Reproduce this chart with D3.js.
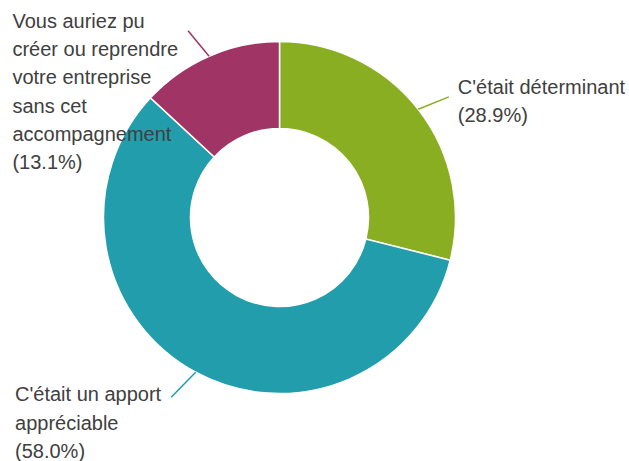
<!DOCTYPE html>
<html><head><meta charset="utf-8">
<script src="https://cdn.jsdelivr.net/npm/d3@7"></script>
<style>body{margin:0;background:#fff}svg{display:block}</style>
</head><body>
<svg id="chart" width="629" height="461"></svg>
<script>
const categories = ["C'était déterminant", "C'était un apport appréciable", "Vous auriez pu créer ou reprendre votre entreprise sans cet accompagnement"];
const values = [28.9, 58.0, 13.1];
const labelLines = [
  ["C'était déterminant", "(28.9%)"],
  ["C'était un apport", "appréciable", "(58.0%)"],
  ["Vous auriez pu", "créer ou reprendre", "votre entreprise", "sans cet", "accompagnement", "(13.1%)"]
];
const colors = ["#8aae22", "#219dab", "#a03565"];

const svg = d3.select("#chart");
const cx = 279.5, cy = 217.5, R = 176, r = 89;
const g = svg.append("g").attr("transform", `translate(${cx},${cy})`);
const pie = d3.pie().sort(null).value(d => d)(values);
const arc = d3.arc().innerRadius(r).outerRadius(R);
g.selectAll("path.slice").data(pie).join("path")
  .attr("class", "slice")
  .attr("d", arc)
  .attr("fill", (d, i) => colors[i])
  .attr("stroke", "#fff").attr("stroke-width", 1.5);

const lineLen = 33, tilt = 16 * Math.PI / 180;
pie.forEach((d, i) => {
  const a = (d.startAngle + d.endAngle) / 2;
  const sx = Math.sin(a) * R, sy = -Math.cos(a) * R;
  const right = sx > 0;
  const up = sy < 0;
  const sign = (right === up) ? 1 : -1;
  const b = a + sign * tilt;
  const len = up ? lineLen : lineLen + 2;
  const ex = sx + Math.sin(b) * len, ey = sy - Math.cos(b) * len;
  g.append("line").attr("x1", sx).attr("y1", sy).attr("x2", ex).attr("y2", ey)
    .attr("stroke", colors[i]).attr("stroke-width", 1.5);
  const t = g.append("text")
    .attr("font-family", "'Liberation Sans', Arial, sans-serif")
    .attr("font-size", 20).attr("fill", "#404040");
  labelLines[i].forEach((s, k) => {
    t.append("tspan").attr("x", 0).attr("y", k * 28.3).text(s);
  });
  let maxW = 0;
  t.selectAll("tspan").each(function(){ maxW = Math.max(maxW, this.getComputedTextLength()); });
  const tx = right ? ex + 9 : ex - 10 - maxW;
  const ty = ey + (up ? -3 : 4);
  t.attr("transform", `translate(${tx},${ty})`);
});
</script>
</body></html>
